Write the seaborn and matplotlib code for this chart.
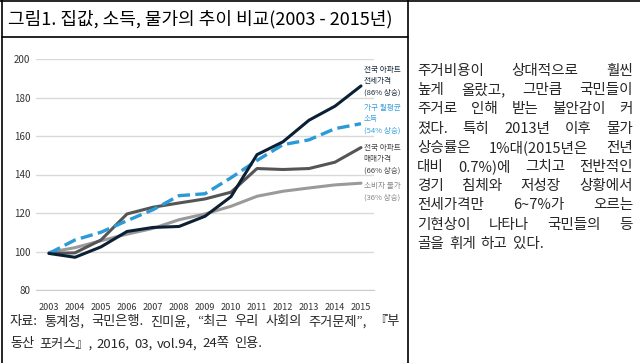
import matplotlib
matplotlib.use("Agg")
import matplotlib.pyplot as plt
import seaborn as sns
from matplotlib.lines import Line2D

years = [2003, 2004, 2005, 2006, 2007, 2008, 2009, 2010, 2011, 2012, 2013, 2014, 2015]
jeonse = [99, 97, 102.4, 110.4, 112.5, 113, 118.3, 128.5, 150.3, 157, 168.2, 175.5, 186]
income = [99, 106, 110, 116, 121.7, 129, 130, 138.3, 147.3, 155.5, 158, 163.8, 166.4]
sale = [99, 99.3, 106, 119.5, 123, 125.2, 127.3, 130.8, 143.1, 142.6, 143.1, 146.4, 154]
cpi = [99.5, 102, 105.6, 109, 112, 116.5, 119.5, 123.5, 128.7, 131.3, 133, 134.6, 135.5]
y_ticks = [80, 100, 120, 140, 160, 180, 200]

title = "그림1. 집값, 소득, 물가의 추이 비교(2003 - 2015년)"
labels = ["전국 아파트\n전세가격\n(86% 상승)", "가구 월평균\n소득\n(54% 상승)",
          "전국 아파트\n매매가격\n(66% 상승)", "소비자 물가\n(36% 상승)"]
source_lines = ["자료: 통계청, 국민은행. 진미윤, “최근 우리 사회의 주거문제”, 『부",
                "동산 포커스』, 2016, 03, vol.94, 24쪽 인용."]
body_lines = ["주거비용이 상대적으로 훨씬",
              "높게 올랐고, 그만큼 국민들이",
              "주거로 인해 받는 불안감이 커",
              "졌다. 특히 2013년 이후 물가",
              "상승률은 1%대(2015년은 전년",
              "대비 0.7%)에 그치고 전반적인",
              "경기 침체와 저성장 상황에서",
              "전세가격만 6~7%가 오르는",
              "기현상이 나타나 국민들의 등",
              "골을 휘게 하고 있다."]

sns.set_style("white")
plt.rcParams["font.family"] = ["Noto Sans CJK KR", "DejaVu Sans"]

W, H = 640, 363
fig = plt.figure(figsize=(W / 100, H / 100), dpi=100)


def fx(x):
    return x / W


def fy(y):
    return 1 - y / H


# chart
ax = fig.add_axes([fx(36), fy(290), fx(374) - fx(36), fy(59) - fy(290)])
sns.lineplot(x=years, y=cpi, ax=ax, color="#9a9a9a", lw=2.2)
sns.lineplot(x=years, y=sale, ax=ax, color="#555555", lw=2.2)
sns.lineplot(x=years, y=income, ax=ax, color="#2b9ad6", lw=2.4, linestyle="--")
sns.lineplot(x=years, y=jeonse, ax=ax, color="#0b2035", lw=2.2)

ax.set_xlim(2002.5, 2015.5)
ax.set_ylim(80, 200)
ax.set_yticks(y_ticks)
ax.set_xticks(years)
ax.set_xticks([y + 0.5 for y in years[:-1]] + [2002.5, 2015.5], minor=True)
ax.tick_params(axis="y", length=0, pad=4, labelsize=7, labelcolor="#333333")
ax.tick_params(axis="x", which="major", length=0, pad=9, labelsize=6.5, labelcolor="#333333")
ax.tick_params(axis="x", which="minor", length=4, width=0.8, color="#cccccc", direction="out")
ax.grid(axis="y", color="#d9d9d9", lw=1)
for s in ["top", "right", "left"]:
    ax.spines[s].set_visible(False)
ax.spines["bottom"].set_color("#cccccc")
ax.set_xlabel("")
ax.set_ylabel("")

label_y = [196.5, 176.7, 156, 136.2]
label_c = ["#1a2a3a", "#3aa0dc", "#444444", "#888888"]
for txt, ly, c in zip(labels, label_y, label_c):
    ax.text(2015.1, ly, txt, color=c, fontsize=5.5, va="top", ha="left",
            linespacing=1.55, clip_on=False)

# frame lines
line_kw = dict(transform=fig.transFigure, color="black", lw=1.2)
fig.add_artist(Line2D([fx(0), fx(640)], [fy(1), fy(1)], **line_kw))
fig.add_artist(Line2D([fx(2), fx(2)], [fy(0), fy(363)], **line_kw))
fig.add_artist(Line2D([fx(408), fx(408)], [fy(0), fy(363)], **line_kw))
fig.add_artist(Line2D([fx(2), fx(408)], [fy(37), fy(37)], **line_kw))

fig.text(fx(8), fy(19), title, fontsize=13, va="center", ha="left", color="black")

renderer = fig.canvas.get_renderer()


def justify(line, x0, x1, y, size, last=False):
    words = line.split(" ")
    arts = [fig.text(0, fy(y), w, fontsize=size, va="center", ha="left") for w in words]
    widths = [a.get_window_extent(renderer).width for a in arts]
    if last or len(words) == 1:
        sp = size * 100 / 72 * 0.35
    else:
        sp = (x1 - x0 - sum(widths)) / (len(words) - 1)
    x = x0
    for a, wd in zip(arts, widths):
        a.set_x(fx(x))
        x += wd + sp


justify(source_lines[0], 10, 399, 322, 9.5)
justify(source_lines[1], 10, 399, 344, 9.5, last=True)

for i, line in enumerate(body_lines):
    justify(line, 417, 633, 71 + i * 19.2, 10.5, last=(i == len(body_lines) - 1))

fig.savefig("out.png", dpi=100)
